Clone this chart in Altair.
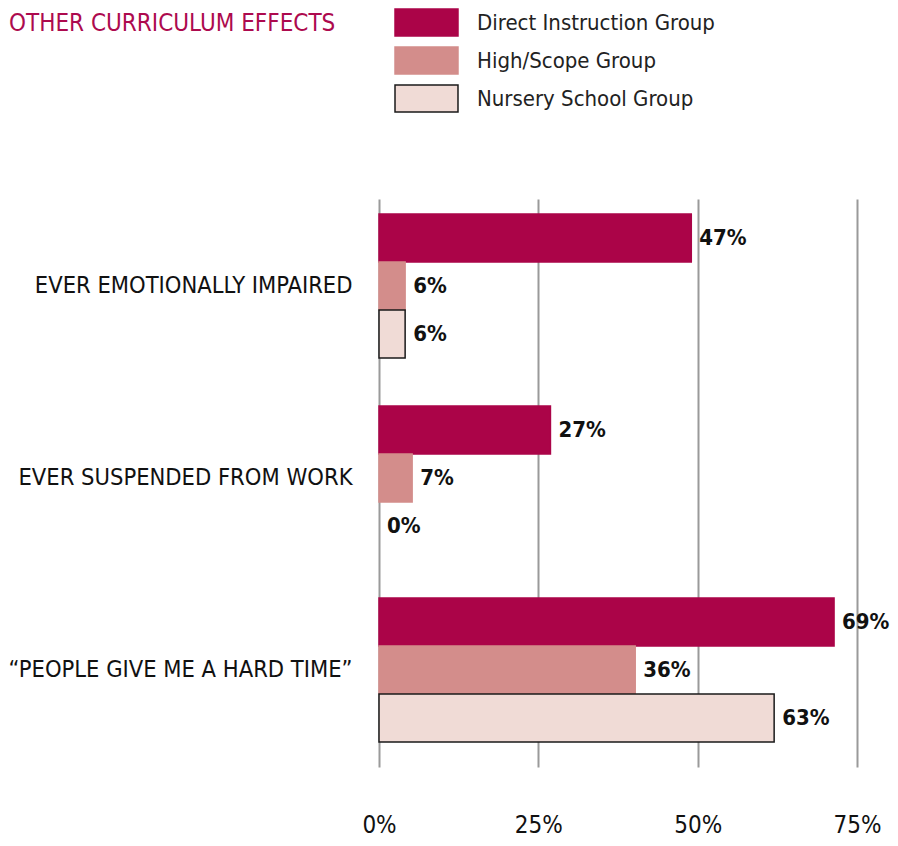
import altair as alt
import pandas as pd

categories = ["EVER EMOTIONALLY IMPAIRED", "EVER SUSPENDED FROM WORK", "\u201cPEOPLE GIVE ME A HARD TIME\u201d"]
groups = ["Direct Instruction Group", "High/Scope Group", "Nursery School Group"]

# bar lengths as drawn (percent) and the printed labels
direct_values = [49.0, 26.9, 71.4]
highscope_values = [4.1, 5.2, 40.2]
nursery_values = [4.1, 0.0, 62.0]
direct_labels = ["47%", "27%", "69%"]
highscope_labels = ["6%", "7%", "36%"]
nursery_labels = ["6%", "0%", "63%"]

title_text = ["OTHER CURRICULUM EFFECTS"]
x_ticks = [0, 25, 50, 75]
fill_colors = ["#AB0448", "#D38D8B", "#F0DBD6"]
stroke_colors = ["#AB0448", "#D38D8B", "#1a1a1a"]

FONT = "DejaVu Sans Condensed"

rows = []
for g, vals, labs in zip(groups,
                         [direct_values, highscope_values, nursery_values],
                         [direct_labels, highscope_labels, nursery_labels]):
    for c, v, l in zip(categories, vals, labs):
        rows.append({"category": c, "group": g, "value": v, "label": l})
df = pd.DataFrame(rows)

base = alt.Chart(df)

y_enc = alt.Y(
    "category:N", sort=categories, title=None,
    scale=alt.Scale(paddingInner=0.25, paddingOuter=0.104, align=0.375),
    axis=alt.Axis(domain=False, ticks=False, labelPadding=27, labelFont=FONT,
                  labelFontSize=23.5, labelColor="#111", labelLimit=0),
)
yoff_enc = alt.YOffset("group:N", sort=groups,
                       scale=alt.Scale(domain=groups, paddingInner=0, paddingOuter=0))
x_enc = alt.X(
    "value:Q", title=None,
    scale=alt.Scale(domain=[0, 75], nice=False, zero=True),
    axis=alt.Axis(values=x_ticks, labelExpr="datum.value + '%'", grid=True,
                  gridColor="#9a9a9a", gridWidth=2, domain=False, ticks=False,
                  labelFlush=False, labelPadding=46, labelFont=FONT,
                  labelFontSize=24, labelColor="#111"),
)

legend = alt.Legend(
    orient="none", legendX=33, legendY=-191, title=None,
    symbolType="M-2.333,-1H2.333V1H-2.333Z", symbolSize=729,
    symbolStrokeWidth=1.5, labelFont=FONT, labelFontSize=22, labelColor="#222",
    labelOffset=36, rowPadding=5, padding=0, labelLimit=0,
)

bars = base.mark_bar(strokeWidth=1.5).encode(
    x=x_enc, y=y_enc, yOffset=yoff_enc,
    color=alt.Color("group:N", sort=groups,
                    scale=alt.Scale(domain=groups, range=fill_colors), legend=legend),
    stroke=alt.Stroke("group:N", sort=groups,
                      scale=alt.Scale(domain=groups, range=stroke_colors), legend=legend),
    strokeOpacity=alt.condition("datum.value > 0", alt.value(1), alt.value(0)),
)

labels = base.mark_text(align="left", baseline="middle", dx=8, font=FONT,
                        fontSize=22, fontWeight="bold", color="#111").encode(
    x=alt.X("value:Q"), y=alt.Y("category:N", sort=categories),
    yOffset=alt.YOffset("group:N", sort=groups), text="label:N",
)

title = alt.Chart(pd.DataFrame({"t": title_text})).mark_text(
    align="left", baseline="alphabetic", font=FONT, fontSize=24, color="#AD0A4E"
).encode(x=alt.value(-370), y=alt.value(-168), text="t:N")

chart = alt.layer(bars, labels, title).properties(
    width=478, height=568,
    padding={"left": 371, "top": 191, "right": 33, "bottom": 70},
    autosize=alt.AutoSizeParams(type="none"),
).configure_view(stroke=None)

chart.save("out.html", embed_options={"renderer": "svg", "actions": False})
